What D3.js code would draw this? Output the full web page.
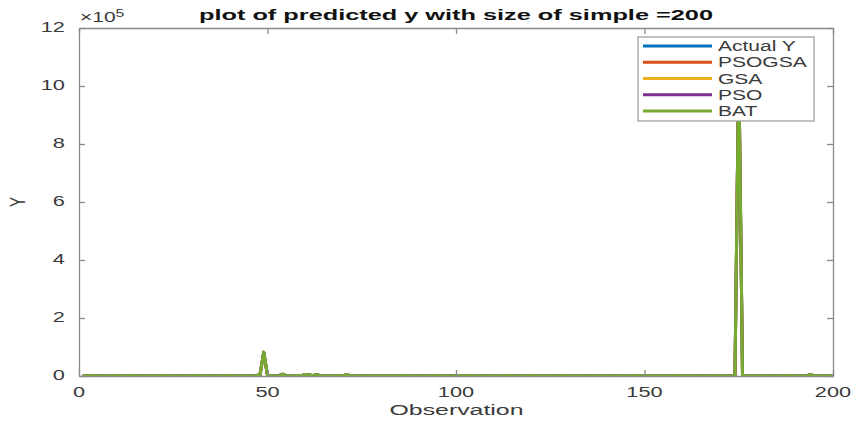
<!DOCTYPE html>
<html>
<head>
<meta charset="utf-8">
<script src="https://cdn.jsdelivr.net/npm/d3@7/dist/d3.min.js"></script>
<style>
  html, body { margin: 0; padding: 0; background: #fff; }
  svg { display: block; font-family: "Liberation Sans", Arial, Helvetica, sans-serif; }
</style>
</head>
<body>
<svg id="chart" width="851" height="423"></svg>
<script>
// Predicted vs. actual response, values in thousands, observations 1..200
const titleText = "plot of predicted y with size of simple =200";
const xLabel = "Observation";
const yLabel = "Y";
const xTicks = [0, 50, 100, 150, 200];
const yTicks = [0, 200, 400, 600, 800, 1000, 1200];   // thousands -> labelled 0..12 (x10^5)
const seriesNames = ["Actual Y", "PSOGSA", "GSA", "PSO", "BAT"];
const seriesColors = ["#0072BD", "#D95319", "#EDB120", "#7E2F8E", "#77AC30"];

const actualY = [
  1.2,0.9,1.5,0.8,1.1,1.3,0.7,1.0,1.4,0.9,1.2,0.8,1.1,1.5,0.9,1.0,1.3,0.7,1.2,1.0,
  0.9,1.1,1.4,0.8,1.0,1.2,1.3,0.9,0.7,1.1,1.5,1.0,0.8,1.2,0.9,1.3,1.1,0.7,1.0,1.4,
  0.8,1.2,0.9,1.1,1.3,1.0,1.5,3.0,82.0,2.5,1.1,0.9,1.3,6.0,1.2,0.8,1.0,1.4,1.1,5.0,
  4.0,1.2,5.0,1.0,0.9,1.3,1.1,0.8,1.2,1.4,4.5,1.0,0.9,1.1,1.3,0.8,1.2,1.0,0.9,1.1,
  1.3,0.8,1.0,1.2,0.9,1.4,1.1,0.7,1.0,1.3,1.2,0.9,1.1,0.8,1.5,1.0,1.2,0.9,1.3,1.1,
  0.8,1.0,1.2,1.4,0.9,1.1,1.3,0.7,1.0,1.2,0.9,1.1,2.0,1.0,0.8,1.3,1.2,0.9,1.0,1.4,
  1.1,0.9,1.2,0.8,1.0,1.3,1.1,0.9,1.4,1.0,0.8,1.2,1.1,0.9,1.3,1.0,1.2,0.8,1.1,1.0,
  0.9,1.3,1.0,1.2,0.8,1.1,1.4,0.9,1.0,1.2,1.1,0.8,1.3,1.0,0.9,1.2,1.1,1.4,0.8,1.0,
  1.2,0.9,1.1,1.3,1.0,0.8,1.2,1.1,0.9,1.4,1.0,1.2,0.9,1.5,1080.0,1.8,1.1,0.9,1.2,1.0,
  1.1,0.8,1.3,1.0,1.2,0.9,1.1,1.4,1.0,0.8,1.2,1.1,1.0,4.5,1.3,0.9,1.1,1.0,1.2,0.8
];

const psogsaY = [
  1.1,1.0,1.4,0.9,1.1,1.2,0.8,1.0,1.3,0.9,1.2,0.9,1.1,1.4,0.9,1.0,1.2,0.8,1.2,1.0,
  0.9,1.1,1.3,0.9,1.0,1.2,1.2,0.9,0.8,1.1,1.4,1.0,0.9,1.2,0.9,1.2,1.1,0.8,1.0,1.3,
  0.9,1.2,0.9,1.1,1.2,1.0,1.4,3.2,81.0,2.6,1.1,0.9,1.2,5.8,1.2,0.9,1.0,1.3,1.1,4.8,
  3.9,1.2,4.8,1.0,0.9,1.2,1.1,0.9,1.2,1.3,4.3,1.0,0.9,1.1,1.2,0.9,1.2,1.0,0.9,1.1,
  1.2,0.9,1.0,1.2,0.9,1.3,1.1,0.8,1.0,1.2,1.2,0.9,1.1,0.9,1.4,1.0,1.2,0.9,1.2,1.1,
  0.9,1.0,1.2,1.3,0.9,1.1,1.2,0.8,1.0,1.2,0.9,1.1,1.9,1.0,0.9,1.2,1.2,0.9,1.0,1.3,
  1.1,0.9,1.2,0.9,1.0,1.2,1.1,0.9,1.3,1.0,0.9,1.2,1.1,0.9,1.2,1.0,1.2,0.9,1.1,1.0,
  0.9,1.2,1.0,1.2,0.9,1.1,1.3,0.9,1.0,1.2,1.1,0.9,1.2,1.0,0.9,1.2,1.1,1.3,0.9,1.0,
  1.2,0.9,1.1,1.2,1.0,0.9,1.2,1.1,0.9,1.3,1.0,1.2,0.9,1.6,1076.0,1.9,1.1,0.9,1.2,1.0,
  1.1,0.9,1.2,1.0,1.2,0.9,1.1,1.3,1.0,0.9,1.2,1.1,1.0,4.3,1.2,0.9,1.1,1.0,1.2,0.9
];

const gsaY = [
  1.2,1.0,1.3,0.9,1.0,1.2,0.8,1.1,1.3,1.0,1.1,0.9,1.1,1.3,1.0,1.0,1.2,0.8,1.1,1.0,
  1.0,1.1,1.3,0.9,1.0,1.1,1.2,1.0,0.8,1.1,1.3,1.0,0.9,1.1,1.0,1.2,1.1,0.8,1.0,1.3,
  0.9,1.1,1.0,1.1,1.2,1.0,1.3,3.4,79.5,2.8,1.1,1.0,1.2,5.5,1.1,0.9,1.0,1.3,1.1,4.6,
  3.8,1.1,4.6,1.0,1.0,1.2,1.1,0.9,1.1,1.3,4.1,1.0,1.0,1.1,1.2,0.9,1.1,1.0,1.0,1.1,
  1.2,0.9,1.0,1.1,1.0,1.3,1.1,0.8,1.0,1.2,1.1,1.0,1.1,0.9,1.3,1.0,1.1,1.0,1.2,1.1,
  0.9,1.0,1.1,1.3,1.0,1.1,1.2,0.8,1.0,1.1,1.0,1.1,1.8,1.0,0.9,1.2,1.1,1.0,1.0,1.3,
  1.1,1.0,1.1,0.9,1.0,1.2,1.1,1.0,1.3,1.0,0.9,1.1,1.1,1.0,1.2,1.0,1.1,0.9,1.1,1.0,
  1.0,1.2,1.0,1.1,0.9,1.1,1.3,1.0,1.0,1.1,1.1,0.9,1.2,1.0,1.0,1.1,1.1,1.3,0.9,1.0,
  1.1,1.0,1.1,1.2,1.0,0.9,1.1,1.1,1.0,1.3,1.0,1.1,1.0,1.7,1071.0,2.0,1.1,1.0,1.1,1.0,
  1.1,0.9,1.2,1.0,1.1,1.0,1.1,1.3,1.0,0.9,1.1,1.1,1.0,4.1,1.2,1.0,1.1,1.0,1.1,0.9
];

const psoY = [
  1.2,0.9,1.4,0.8,1.1,1.3,0.8,1.0,1.4,0.9,1.2,0.8,1.1,1.4,0.9,1.0,1.3,0.8,1.2,1.0,
  0.9,1.1,1.4,0.8,1.0,1.2,1.3,0.9,0.8,1.1,1.4,1.0,0.8,1.2,0.9,1.3,1.1,0.8,1.0,1.4,
  0.8,1.2,0.9,1.1,1.3,1.0,1.4,3.1,81.5,2.5,1.1,0.9,1.3,5.9,1.2,0.8,1.0,1.4,1.1,4.9,
  4.0,1.2,4.9,1.0,0.9,1.3,1.1,0.8,1.2,1.4,4.4,1.0,0.9,1.1,1.3,0.8,1.2,1.0,0.9,1.1,
  1.3,0.8,1.0,1.2,0.9,1.4,1.1,0.8,1.0,1.3,1.2,0.9,1.1,0.8,1.4,1.0,1.2,0.9,1.3,1.1,
  0.8,1.0,1.2,1.4,0.9,1.1,1.3,0.8,1.0,1.2,0.9,1.1,2.0,1.0,0.8,1.3,1.2,0.9,1.0,1.4,
  1.1,0.9,1.2,0.8,1.0,1.3,1.1,0.9,1.4,1.0,0.8,1.2,1.1,0.9,1.3,1.0,1.2,0.8,1.1,1.0,
  0.9,1.3,1.0,1.2,0.8,1.1,1.4,0.9,1.0,1.2,1.1,0.8,1.3,1.0,0.9,1.2,1.1,1.4,0.8,1.0,
  1.2,0.9,1.1,1.3,1.0,0.8,1.2,1.1,0.9,1.4,1.0,1.2,0.9,1.5,1078.0,1.8,1.1,0.9,1.2,1.0,
  1.1,0.8,1.3,1.0,1.2,0.9,1.1,1.4,1.0,0.8,1.2,1.1,1.0,4.4,1.3,0.9,1.1,1.0,1.2,0.8
];

const batY = [
  1.2,0.9,1.4,0.9,1.1,1.2,0.8,1.0,1.3,0.9,1.2,0.9,1.1,1.4,0.9,1.0,1.2,0.8,1.2,1.0,
  0.9,1.1,1.3,0.9,1.0,1.2,1.2,0.9,0.8,1.1,1.4,1.0,0.9,1.2,0.9,1.2,1.1,0.8,1.0,1.3,
  0.9,1.2,0.9,1.1,1.2,1.0,1.4,3.3,82.5,2.7,1.1,0.9,1.2,6.2,1.2,0.9,1.0,1.3,1.1,5.2,
  4.1,1.2,5.1,1.0,0.9,1.2,1.1,0.9,1.2,1.3,4.6,1.0,0.9,1.1,1.2,0.9,1.2,1.0,0.9,1.1,
  1.2,0.9,1.0,1.2,0.9,1.3,1.1,0.8,1.0,1.2,1.2,0.9,1.1,0.9,1.4,1.0,1.2,0.9,1.2,1.1,
  0.9,1.0,1.2,1.3,0.9,1.1,1.2,0.8,1.0,1.2,0.9,1.1,2.1,1.0,0.9,1.2,1.2,0.9,1.0,1.3,
  1.1,0.9,1.2,0.9,1.0,1.2,1.1,0.9,1.3,1.0,0.9,1.2,1.1,0.9,1.2,1.0,1.2,0.9,1.1,1.0,
  0.9,1.2,1.0,1.2,0.9,1.1,1.3,0.9,1.0,1.2,1.1,0.9,1.2,1.0,0.9,1.2,1.1,1.3,0.9,1.0,
  1.2,0.9,1.1,1.2,1.0,0.9,1.2,1.1,0.9,1.3,1.0,1.2,0.9,1.6,1082.0,1.9,1.1,0.9,1.2,1.0,
  1.1,0.9,1.2,1.0,1.2,0.9,1.1,1.3,1.0,0.9,1.2,1.1,1.0,4.7,1.2,0.9,1.1,1.0,1.2,0.9
];

const seriesValues = [actualY, psogsaY, gsaY, psoY, batY];

// ---- layout ----
const svg = d3.select("#chart");
const plot = { left: 79, right: 833, top: 28, bottom: 376 };
const STRETCH = 1.5;          // wide glyph rendering used throughout the figure
const axisColor = "#8a8a8a";
const textColor = "#3a3a3a";
const lineWidth = 3;

const x = d3.scaleLinear().domain([0, 200]).range([plot.left, plot.right]);
const y = d3.scaleLinear().domain([0, 1200]).range([plot.bottom, plot.top]);

function stretch(sel, factor) {
  sel.each(function () {
    const w = this.getComputedTextLength();
    d3.select(this).attr("textLength", w * factor).attr("lengthAdjust", "spacingAndGlyphs");
  });
}

svg.append("defs").append("clipPath").attr("id", "plotClip")
  .append("rect")
  .attr("x", plot.left).attr("y", plot.top)
  .attr("width", plot.right - plot.left).attr("height", plot.bottom - plot.top);

// ---- series lines ----
const line = d3.line()
  .x((d, i) => x(i + 1))
  .y(d => y(d));

const lines = svg.append("g").attr("clip-path", "url(#plotClip)");
seriesValues.forEach((vals, k) => {
  lines.append("path")
    .datum(vals)
    .attr("fill", "none")
    .attr("stroke", seriesColors[k])
    .attr("stroke-width", lineWidth)
    .attr("stroke-linejoin", "round")
    .attr("d", line);
});

// ---- axes (box with inward ticks) ----
const axes = svg.append("g");
const tickLen = 6;

const bottomAxis = d3.axisBottom(x).tickValues(xTicks).tickSizeInner(-tickLen).tickSizeOuter(0).tickFormat("");
const topAxis = d3.axisTop(x).tickValues(xTicks).tickSizeInner(-tickLen).tickSizeOuter(0).tickFormat("");
const leftAxis = d3.axisLeft(y).tickValues(yTicks).tickSizeInner(-tickLen).tickSizeOuter(0).tickFormat("");
const rightAxis = d3.axisRight(y).tickValues(yTicks).tickSizeInner(-tickLen).tickSizeOuter(0).tickFormat("");

axes.append("g").attr("transform", `translate(0,${plot.bottom})`).call(bottomAxis);
axes.append("g").attr("transform", `translate(0,${plot.top})`).call(topAxis);
axes.append("g").attr("transform", `translate(${plot.left},0)`).call(leftAxis);
axes.append("g").attr("transform", `translate(${plot.right},0)`).call(rightAxis);
axes.selectAll(".domain, .tick line").attr("stroke", axisColor).attr("stroke-width", 1.3);

// tick labels
const xLabels = svg.append("g").selectAll("text")
  .data(xTicks).join("text")
  .attr("x", d => x(d)).attr("y", plot.bottom + 21)
  .attr("text-anchor", "middle")
  .attr("font-size", 14.5).attr("fill", textColor)
  .text(d => d);
stretch(xLabels, STRETCH);

const yLabels = svg.append("g").selectAll("text")
  .data(yTicks).join("text")
  .attr("x", plot.left - 14).attr("y", d => y(d) + 4)
  .attr("text-anchor", "end")
  .attr("font-size", 14.5).attr("fill", textColor)
  .text(d => d / 100);
stretch(yLabels, STRETCH);

// exponent marker
const expo = svg.append("text")
  .attr("x", plot.left + 1).attr("y", plot.top - 6)
  .attr("font-size", 14).attr("fill", textColor);
expo.append("tspan").text("\u00D710");
expo.append("tspan").attr("dy", -5).attr("font-size", 10.5).text("5");
expo.attr("transform", `translate(${(plot.left + 1) * (1 - STRETCH)},0) scale(${STRETCH},1)`);

// title
svg.append("text")
  .attr("x", 456).attr("y", 20)
  .attr("text-anchor", "middle")
  .attr("font-size", 15).attr("font-weight", "bold").attr("fill", "#111")
  .attr("textLength", 514).attr("lengthAdjust", "spacingAndGlyphs")
  .text(titleText);

// x axis label
svg.append("text")
  .attr("x", 456.5).attr("y", 415)
  .attr("text-anchor", "middle")
  .attr("font-size", 15.5).attr("fill", textColor)
  .attr("textLength", 134).attr("lengthAdjust", "spacingAndGlyphs")
  .text(xLabel);

// y axis label
svg.append("text")
  .attr("transform", `translate(25,202) scale(${STRETCH},1) rotate(-90)`)
  .attr("text-anchor", "middle")
  .attr("font-size", 15).attr("fill", textColor)
  .text(yLabel);

// ---- legend ----
const legend = svg.append("g");
const lg = { x: 638, y: 37, w: 176, h: 84 };
legend.append("rect")
  .attr("x", lg.x).attr("y", lg.y).attr("width", lg.w).attr("height", lg.h)
  .attr("fill", "#fff").attr("stroke", "#9a9a9a").attr("stroke-width", 1.2);

const rowY = d3.scalePoint().domain(seriesNames).range([46, 111]);
const rows = legend.selectAll("g.row").data(seriesNames).join("g").attr("class", "row");
rows.append("line")
  .attr("x1", 643).attr("x2", 712)
  .attr("y1", d => rowY(d)).attr("y2", d => rowY(d))
  .attr("stroke", (d, i) => seriesColors[i]).attr("stroke-width", lineWidth);
const legendText = rows.append("text")
  .attr("x", 718).attr("y", d => rowY(d) + 5)
  .attr("font-size", 14).attr("fill", textColor)
  .text(d => d);
stretch(legendText, STRETCH);
</script>
</body>
</html>
